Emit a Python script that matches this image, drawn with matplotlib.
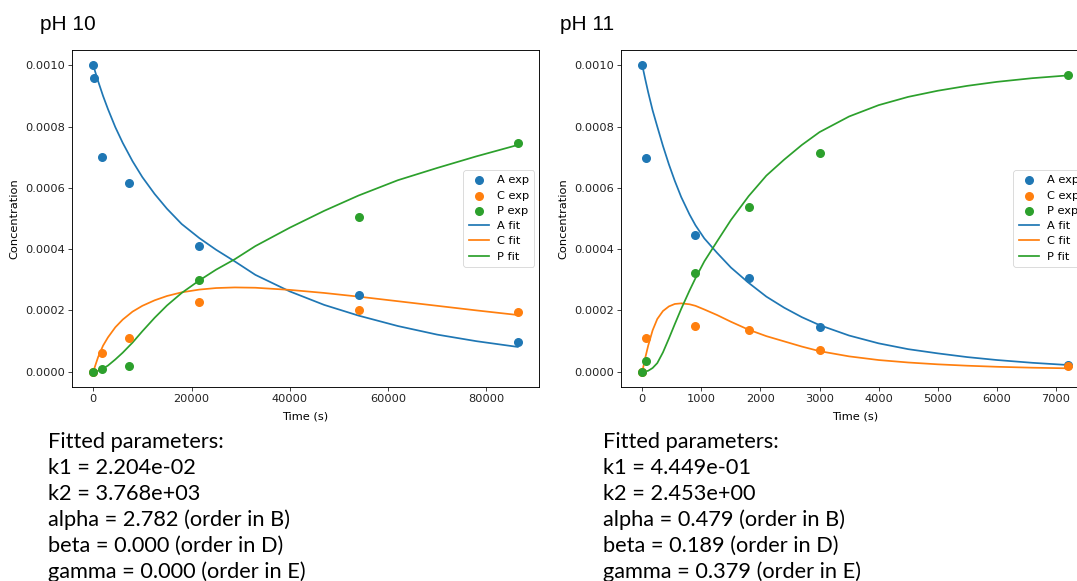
import matplotlib
matplotlib.use("Agg")
import matplotlib.pyplot as plt

# ---- pH 10 experimental data ----
tA_10 = [0, 60, 1800, 7200, 21600, 54000, 86400]
A_10 = [0.00100, 0.00096, 0.000702, 0.000617, 0.000410, 0.000251, 0.0000958]
tCP_10 = [0, 1800, 7200, 21600, 54000, 86400]
C_10 = [0.0, 0.0000598, 0.000111, 0.000227, 0.000202, 0.000194]
P_10 = [0.0, 0.0000087, 0.0000185, 0.000299, 0.000504, 0.000745]

# ---- pH 10 fitted curves ----
tfit_10 = [0, 1000, 2000, 3000, 4500, 6000, 8000, 10000, 12500, 15000, 18000,
           21600, 25000, 28800, 33000, 40000, 47000, 54000, 62000, 70000, 78000, 86400]
Afit_10 = [0.001, 0.000948, 0.000900, 0.000857, 0.000798, 0.000747, 0.000687,
           0.000635, 0.000580, 0.000532, 0.000482, 0.000436, 0.000398, 0.000360,
           0.000316, 0.000262, 0.000218, 0.000183, 0.000149, 0.000121, 0.0000995, 0.0000808]
Cfit_10 = [0.0, 0.000048, 0.000085, 0.000112, 0.000145, 0.000170, 0.000196,
           0.000215, 0.000233, 0.000247, 0.000259, 0.000268, 0.000273, 0.000275,
           0.000274, 0.000267, 0.000257, 0.000245, 0.000230, 0.000215, 0.000200, 0.000185]
Pfit_10 = [0.0, 0.000003, 0.000010, 0.000020, 0.000040, 0.000062, 0.000095,
           0.000132, 0.000176, 0.000216, 0.000257, 0.000298, 0.000333, 0.000367,
           0.000410, 0.000470, 0.000525, 0.000575, 0.000625, 0.000665, 0.000703, 0.000740]

# ---- pH 11 experimental data ----
t_11 = [0, 60, 900, 1800, 3000, 7200]
A_11 = [0.00100, 0.000696, 0.000446, 0.000305, 0.000145, 0.0000218]
C_11 = [0.0, 0.000111, 0.000150, 0.000136, 0.0000718, 0.0000196]
P_11 = [0.0, 0.0000348, 0.000323, 0.000536, 0.000715, 0.000970]

# ---- pH 11 fitted curves ----
tfit_11 = [0, 50, 100, 175, 254, 350, 450, 550, 659, 800, 900, 1050, 1265, 1500,
           1800, 2100, 2400, 2700, 3000, 3500, 4000, 4500, 5000, 5500, 6000, 6600, 7200]
Afit_11 = [0.001, 0.000955, 0.000912, 0.000853, 0.000800, 0.000737, 0.000677,
           0.000623, 0.000570, 0.000513, 0.000478, 0.000435, 0.000388, 0.000340,
           0.000290, 0.000245, 0.000209, 0.000178, 0.000152, 0.000118, 0.0000925,
           0.0000735, 0.0000598, 0.0000476, 0.0000381, 0.000029, 0.0000218]
Cfit_11 = [0.0, 0.000045, 0.000085, 0.000135, 0.000172, 0.000198, 0.000213,
           0.000221, 0.000223, 0.000220, 0.000215, 0.000203, 0.000185, 0.000163,
           0.000137, 0.000116, 0.000099, 0.000082, 0.000067, 0.000050, 0.000038,
           0.000030, 0.000024, 0.0000195, 0.000016, 0.000013, 0.000011]
Pfit_11 = [0.0, 0.0000005, 0.000003, 0.000012, 0.000028, 0.000063, 0.000108,
           0.000155, 0.000205, 0.000265, 0.000305, 0.000360, 0.000425, 0.000495,
           0.000573, 0.000640, 0.000692, 0.000740, 0.000782, 0.000833, 0.000870,
           0.000897, 0.000917, 0.000933, 0.000946, 0.000958, 0.000967]

titles = ["pH 10", "pH 11"]
params_10 = ["Fitted parameters:", "k1 = 2.204e-02", "k2 = 3.768e+03",
             "alpha = 2.782 (order in B)", "beta = 0.000 (order in D)",
             "gamma = 0.000 (order in E)"]
params_11 = ["Fitted parameters:", "k1 = 4.449e-01", "k2 = 2.453e+00",
             "alpha = 0.479 (order in B)", "beta = 0.189 (order in D)",
             "gamma = 0.379 (order in E)"]

W, H = 1077, 581
fig = plt.figure(figsize=(W / 100, H / 100), dpi=100)
fig.patch.set_facecolor("white")

TICK_FS = 8.2
LW = 1.25
MS = 30
blue, orange, green = "#1f77b4", "#ff7f0e", "#2ca02c"


def px_axes(x0, y0, x1, y1):
    return fig.add_axes([x0 / W, 1 - y1 / H, (x1 - x0) / W, (y1 - y0) / H])


def draw_panel(ax, tA, A, tC, C, tP, P, tf, Af, Cf, Pf):
    ax.scatter(tA, A, s=MS, color=blue, label="A exp", zorder=3)
    ax.scatter(tC, C, s=MS, color=orange, label="C exp", zorder=3)
    ax.scatter(tP, P, s=MS, color=green, label="P exp", zorder=3)
    ax.plot(tf, Af, color=blue, lw=LW, label="A fit")
    ax.plot(tf, Cf, color=orange, lw=LW, label="C fit")
    ax.plot(tf, Pf, color=green, lw=LW, label="P fit")
    ax.set_xlabel("Time (s)", fontsize=TICK_FS, labelpad=5)
    ax.set_ylabel("Concentration", fontsize=TICK_FS, labelpad=4)
    ax.tick_params(labelsize=TICK_FS, length=2.8, width=0.6, pad=2.5,
                   colors="#222222")
    for s in ax.spines.values():
        s.set_linewidth(0.65)
    ax.set_yticks([0.0, 0.0002, 0.0004, 0.0006, 0.0008, 0.0010])
    ax.set_yticklabels([f"{v:.4f}" for v in ax.get_yticks()])
    leg = ax.legend(loc="center right", fontsize=TICK_FS, borderpad=0.45,
                    labelspacing=0.46, handlelength=1.8, handletextpad=0.7,
                    borderaxespad=0.4)
    leg.get_frame().set_linewidth(0.6)


ax1 = px_axes(72, 50, 539, 387)
draw_panel(ax1, tA_10, A_10, tCP_10, C_10, tCP_10, P_10,
           tfit_10, Afit_10, Cfit_10, Pfit_10)
ax1.set_xticks([0, 20000, 40000, 60000, 80000])

ax2 = px_axes(621, 50, 1089, 387)
draw_panel(ax2, t_11, A_11, t_11, C_11, t_11, P_11,
           tfit_11, Afit_11, Cfit_11, Pfit_11)
ax2.set_xticks([0, 1000, 2000, 3000, 4000, 5000, 6000, 7000])

for x, title in zip([40, 560], titles):
    fig.text(x / W, 1 - 24 / H, title, fontsize=15, family="Liberation Sans",
             va="center", ha="left")

for x, lines in zip([48, 603], [params_10, params_11]):
    for i, line in enumerate(lines):
        y = 442 + i * 26
        fig.text(x / W, 1 - y / H, line, fontsize=15.7, family="Lato",
                 va="center", ha="left")

fig.savefig("out.png", dpi=100)
